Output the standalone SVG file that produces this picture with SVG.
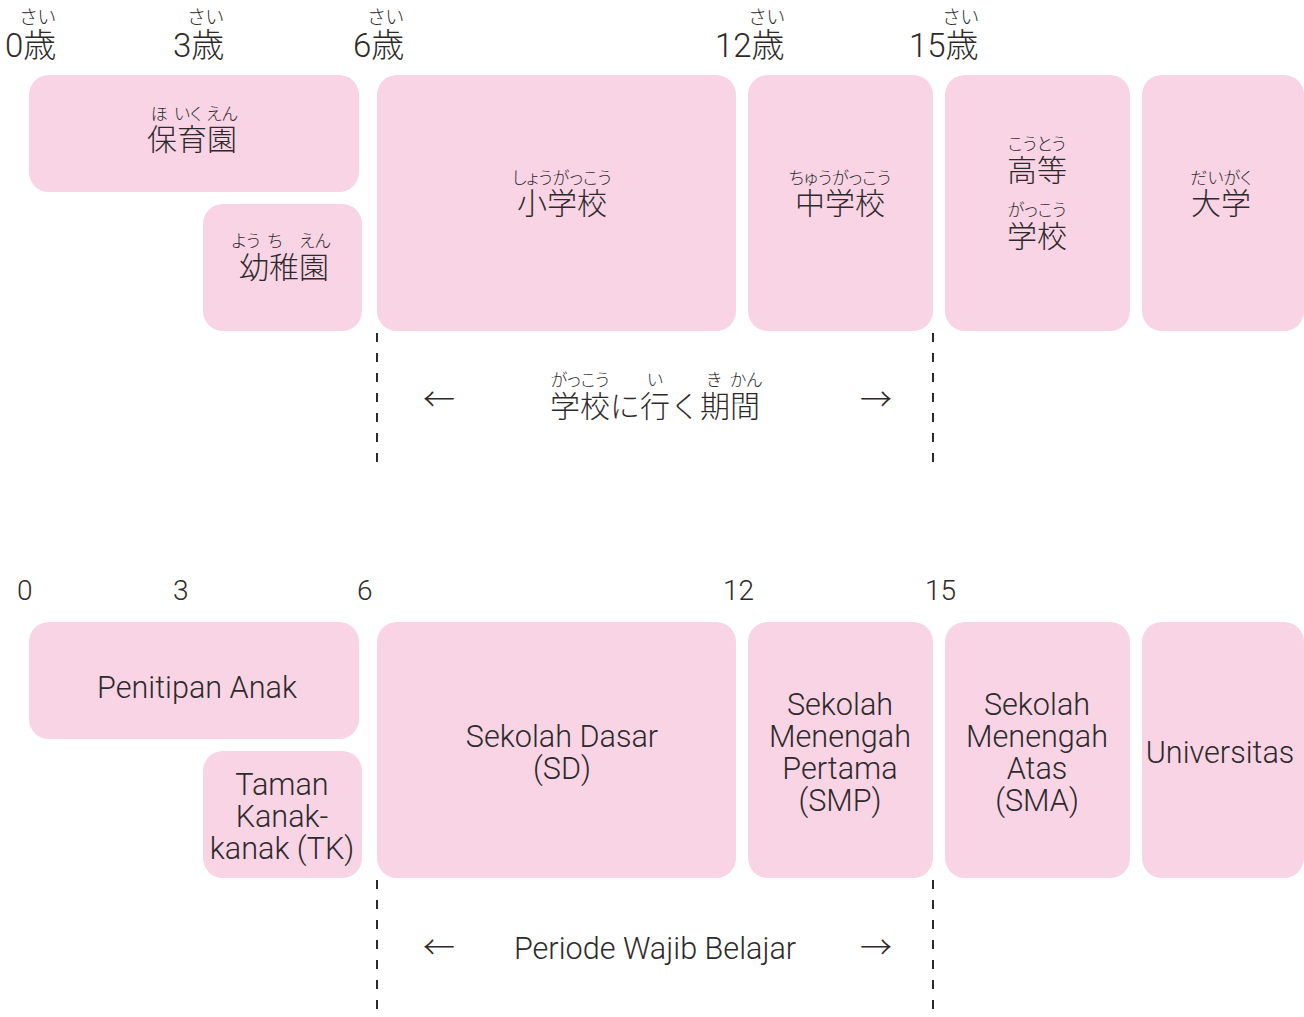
<svg xmlns="http://www.w3.org/2000/svg" width="1304" height="1017" viewBox="0 0 1304 1017">
<style>
.box{fill:#f8d4e5}
text{fill:#2e2a2b;font-family:"Roboto","Noto Sans CJK JP",sans-serif;font-weight:300}
.jp{font-family:"Noto Sans CJK JP",sans-serif;font-weight:300}
.age{font-size:33px}
.rb{font-size:17px;text-anchor:middle;font-feature-settings:"palt";font-family:"Noto Sans CJK JP",sans-serif;font-weight:300}
.ra{font-size:19px;letter-spacing:1px}
.m{font-size:30px;text-anchor:middle}
.en{font-size:30.6px;text-anchor:middle}
.num{font-size:28px}
.arr{font-size:32px;text-anchor:middle}
.dash{stroke:#2e2a2b;stroke-width:2;stroke-dasharray:9 11;fill:none}
</style>
<rect width="1304" height="1017" fill="#ffffff"/>

<!-- top age labels -->
<g id="ages-jp">
<text class="rb ra" x="38" y="24">さい</text><text class="age" x="5" y="57">0歳</text>
<text class="rb ra" x="206" y="24">さい</text><text class="age" x="173" y="57">3歳</text>
<text class="rb ra" x="386" y="24">さい</text><text class="age" x="353" y="57">6歳</text>
<text class="rb ra" x="767" y="24">さい</text><text class="age" x="715" y="57">12歳</text>
<text class="rb ra" x="961" y="24">さい</text><text class="age" x="909" y="57">15歳</text>
</g>

<g id="hoikuen">
<rect class="box" x="29" y="75" width="330" height="117" rx="20"/>
<text class="rb" x="159" y="120">ほ</text><text class="rb" x="188" y="120">いく</text><text class="rb" x="222" y="120">えん</text>
<text class="m jp" x="192" y="150">保育園</text>
</g>
<g id="youchien">
<rect class="box" x="203" y="204" width="159" height="127" rx="20"/>
<text class="rb" x="246" y="247">よう</text><text class="rb" x="275" y="247">ち</text><text class="rb" x="315" y="247">えん</text>
<text class="m jp" x="284" y="278">幼稚園</text>
</g>
<g id="shougakkou">
<rect class="box" x="377" y="75" width="359" height="256" rx="20"/>
<text class="rb" x="562" y="184">しょうがっこう</text>
<text class="m jp" x="562" y="214">小学校</text>
</g>
<g id="chuugakkou">
<rect class="box" x="748" y="75" width="185" height="256" rx="20"/>
<text class="rb" x="840" y="184">ちゅうがっこう</text>
<text class="m jp" x="840" y="214">中学校</text>
</g>
<g id="koutougakkou">
<rect class="box" x="945" y="75" width="185" height="256" rx="20"/>
<text class="rb" x="1037" y="150">こうとう</text>
<text class="m jp" x="1037" y="181">高等</text>
<text class="rb" x="1037" y="216">がっこう</text>
<text class="m jp" x="1037" y="247">学校</text>
</g>
<g id="daigaku">
<rect class="box" x="1142" y="75" width="162" height="256" rx="20"/>
<text class="rb" x="1221" y="184">だいがく</text>
<text class="m jp" x="1221" y="214">大学</text>
</g>

<g id="period-jp">
<text class="rb" x="580" y="386">がっこう</text><text class="rb" x="655" y="386">い</text><text class="rb" x="714" y="386">き</text><text class="rb" x="746" y="386">かん</text>
<text class="m jp" x="655" y="417">学校に行く期間</text>
<text class="arr jp" x="439" y="411">←</text>
<text class="arr jp" x="876" y="411">→</text>
</g>

<!-- bottom age labels -->
<g id="ages-id">
<text class="num" x="17" y="600">0</text>
<text class="num" x="173" y="600">3</text>
<text class="num" x="357" y="600">6</text>
<text class="num" x="723" y="600">12</text>
<text class="num" x="925" y="600">15</text>
</g>

<g id="penitipan">
<rect class="box" x="29" y="622" width="330" height="117" rx="20"/>
<text class="en" x="197" y="698">Penitipan Anak</text>
</g>
<g id="tk">
<rect class="box" x="203" y="751" width="159" height="127" rx="20"/>
<text class="en" x="282" y="795">Taman</text>
<text class="en" x="282" y="827">Kanak-</text>
<text class="en" x="282" y="859">kanak (TK)</text>
</g>
<g id="sd">
<rect class="box" x="377" y="622" width="359" height="256" rx="20"/>
<text class="en" x="562" y="747">Sekolah Dasar</text>
<text class="en" x="562" y="779">(SD)</text>
</g>
<g id="smp">
<rect class="box" x="748" y="622" width="185" height="256" rx="20"/>
<text class="en" x="840" y="715">Sekolah</text>
<text class="en" x="840" y="747">Menengah</text>
<text class="en" x="840" y="779">Pertama</text>
<text class="en" x="840" y="811">(SMP)</text>
</g>
<g id="sma">
<rect class="box" x="945" y="622" width="185" height="256" rx="20"/>
<text class="en" x="1037" y="715">Sekolah</text>
<text class="en" x="1037" y="747">Menengah</text>
<text class="en" x="1037" y="779">Atas</text>
<text class="en" x="1037" y="811">(SMA)</text>
</g>
<g id="universitas">
<rect class="box" x="1142" y="622" width="162" height="256" rx="20"/>
<text class="en" x="1220" y="763">Universitas</text>
</g>

<g id="period-id">
<text class="en" x="655" y="959">Periode Wajib Belajar</text>
<text class="arr jp" x="439" y="959">←</text>
<text class="arr jp" x="876" y="959">→</text>
</g>

<g id="connectors">
<line class="dash" x1="377" y1="333" x2="377" y2="470"/>
<line class="dash" x1="933" y1="333" x2="933" y2="470"/>
<line class="dash" x1="377" y1="880" x2="377" y2="1017"/>
<line class="dash" x1="933" y1="880" x2="933" y2="1017"/>
</g>
</svg>
